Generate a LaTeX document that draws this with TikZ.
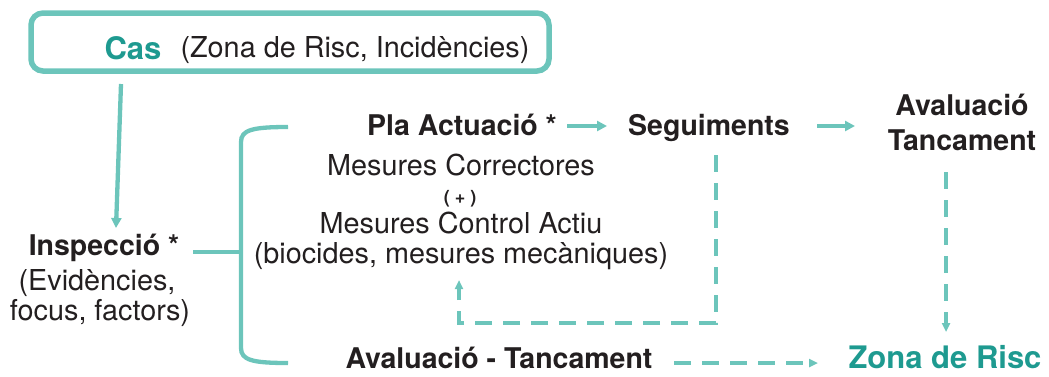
\documentclass[tikz,border=0pt]{standalone}
\usepackage{fontspec}
\setmainfont{TeX Gyre Heros}
\usetikzlibrary{arrows.meta}
\definecolor{teal1}{HTML}{6CC5BB}
\definecolor{tealtxt}{HTML}{1E9A90}
\definecolor{ink}{HTML}{231F20}
\begin{document}
\begin{tikzpicture}[x=1pt,y=-1pt,
  txt/.style={inner sep=0pt, anchor=base, text=ink, font=\fontsize{28.8}{34}\selectfont},
  btxt/.style={txt, font=\fontsize{28.5}{34}\selectfont\bfseries},
  bigt/.style={txt, text=tealtxt, font=\fontsize{31}{36}\selectfont\bfseries},
  smallt/.style={txt, font=\fontsize{18}{20}\selectfont\bfseries},
  ln/.style={draw=teal1, line width=4.3pt},
  dl/.style={ln, dash pattern=on 17pt off 11pt},
  tip/.style={-{Triangle[length=10pt,width=10pt]}},
  stip/.style={-{Triangle[length=9pt,width=8pt]}}
]
\useasboundingbox (0,0) rectangle (1049,376);

% Cas box
\node[draw=teal1, line width=5.5pt, rounded corners=12pt, minimum width=518pt,
      minimum height=58pt, inner sep=0pt] (casbox) at (290,42) {};
\node[bigt] (cas) at (133,59) {Cas};
\node[txt] (casinfo) at (355,57) {(Zona de Risc, Incidències)};

% Inspeccio
\node[btxt] (insp) at (104,255) {Inspecció *};
\node[txt] (insp2) at (97,290) {(Evidències,};
\node[txt] (insp3) at (100,320) {focus, factors)};

% Pla actuacio column
\node[btxt] (pla) at (462,135) {Pla Actuació *};
\node[txt] (mc) at (461,175) {Mesures Correctores};
\node[smallt] (plus) at (460,203) {( + )};
\node[txt] (mca) at (461,233) {Mesures Control Actiu};
\node[txt] (bio) at (461,263) {(biocides, mesures mecàniques)};
\node[btxt] (avt) at (499,368) {Avaluació - Tancament};

% right
\node[btxt] (seg) at (709,135) {Seguiments};
\node[btxt] (av1) at (962,115) {Avaluació};
\node[btxt] (av2) at (962,150) {Tancament};
\node[bigt] (zr) at (945,368) {Zona de Risc};

% coordinates
\coordinate (c1) at (121,84);
\coordinate (c2) at (116,228);
\coordinate (im) at (193,252);
\coordinate (bm) at (241,252);
\coordinate (bt) at (288,127);
\coordinate (bb) at (288,363);
\coordinate (p1) at (567,126);
\coordinate (p2) at (607,126);
\coordinate (s1) at (817,126);
\coordinate (s2) at (855,126);
\coordinate (d1) at (716,155);
\coordinate (d2) at (716,323);
\coordinate (d3) at (459,323);
\coordinate (d4) at (459,280);
\coordinate (e1) at (946,172);
\coordinate (e2) at (946,332);
\coordinate (f1) at (674,363);
\coordinate (f2) at (818,363);

% connectors
\draw[ln,tip] (c1) -- (c2);
\draw[ln] (im) -- (bm);
\draw[ln] (bt) .. controls (252,127) and (241,130) .. (241,142) -- (241,348)
      .. controls (241,360) and (252,363) .. (bb);
\draw[ln,tip] (p1) -- (p2);
\draw[ln,tip] (s1) -- (s2);
\draw[dl,stip] (d1) -- (d2) -- (d3) -- (d4);
\draw[dl,stip] (e1) -- (e2);
\draw[dl,stip] (f1) -- (f2);
\end{tikzpicture}
\end{document}
